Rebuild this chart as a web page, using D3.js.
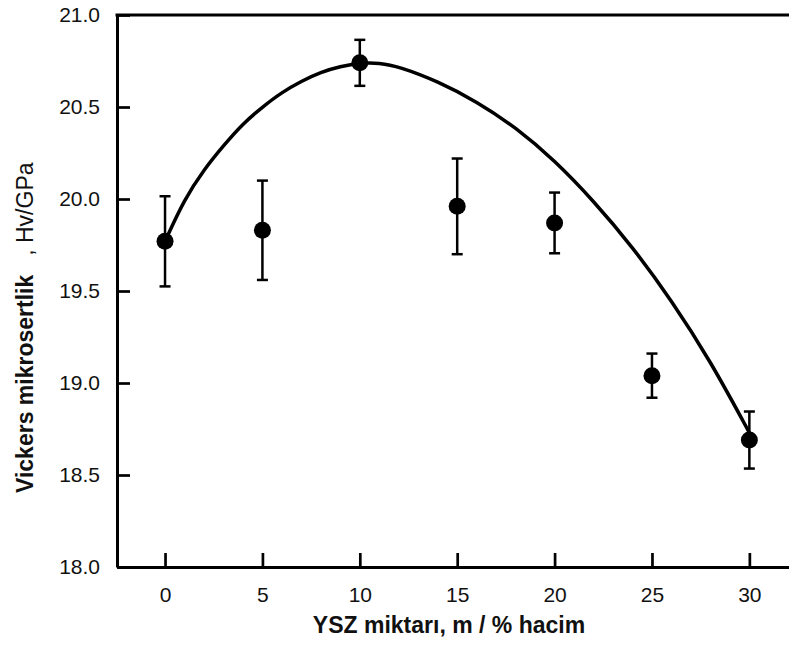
<!DOCTYPE html>
<html>
<head>
<meta charset="utf-8">
<script src="https://cdn.jsdelivr.net/npm/d3@7"></script>
<style>
  body { margin: 0; background: #fff; }
  svg { display: block; font-family: "Liberation Sans", Arial, sans-serif; }
</style>
</head>
<body>
<div id="chart"></div>
<script>
// measured points (YSZ vol %, hardness GPa, error)
const ysz = [0, 5, 10, 15, 20, 25, 30];
const hardness = [19.77, 19.83, 20.74, 19.96, 19.87, 19.04, 18.69];
const errors = [0.245, 0.27, 0.125, 0.26, 0.165, 0.12, 0.155];

// fitted curve
const curveX = [0, 1, 2, 3, 4, 5, 6, 7, 8, 9, 10, 11, 12, 14, 16, 18, 20, 22, 24, 26, 28, 30];
const curveY = [19.77, 20.0, 20.16, 20.29, 20.41, 20.5, 20.58, 20.64, 20.69, 20.72, 20.74, 20.74,
                20.72, 20.64, 20.53, 20.39, 20.21, 19.99, 19.74, 19.45, 19.12, 18.73];

const xTicks = [0, 5, 10, 15, 20, 25, 30];
const yTicks = [18.0, 18.5, 19.0, 19.5, 20.0, 20.5, 21.0];

const WIDTH = 789, HEIGHT = 645;
const LEFT = 117, TOP = 15, BOTTOM = 567, RIGHT = 800;

const svg = d3.select("#chart").append("svg")
  .attr("width", WIDTH)
  .attr("height", HEIGHT);

const X_SCALE = d3.scaleLinear()
  .domain([-2.466, 32.6])
  .range([LEFT, RIGHT]);

const Y_SCALE = d3.scaleLinear()
  .domain([18, 21])
  .range([BOTTOM, TOP]);

// x axis
const xAxis = svg.append("g")
  .attr("transform", "translate(0," + BOTTOM + ")")
  .call(d3.axisBottom(X_SCALE).tickValues(xTicks).tickSizeInner(-14).tickSizeOuter(0).tickPadding(20));

// y axis
const yAxis = svg.append("g")
  .attr("transform", "translate(" + LEFT + ",0)")
  .call(d3.axisLeft(Y_SCALE).tickValues(yTicks).tickFormat(d3.format(".1f"))
    .tickSizeInner(-13).tickSizeOuter(0).tickPadding(17));

[xAxis, yAxis].forEach(g => {
  g.select(".domain").attr("stroke", "#000").attr("stroke-width", 3);
  g.selectAll(".tick line").attr("stroke", "#000").attr("stroke-width", 2.7);
  g.selectAll(".tick text")
    .attr("fill", "#111")
    .attr("font-size", "21px")
    .attr("font-family", "'Liberation Sans', Arial, sans-serif");
});

// top frame line
svg.append("line")
  .attr("x1", LEFT - 1.5).attr("x2", RIGHT)
  .attr("y1", TOP).attr("y2", TOP)
  .attr("stroke", "#000").attr("stroke-width", 3);

// fitted curve
const curvePts = curveX.map((d, i) => [d, curveY[i]]);
svg.append("path")
  .datum(curvePts)
  .attr("fill", "none")
  .attr("stroke", "#000")
  .attr("stroke-width", 3.5)
  .attr("d", d3.line()
    .x(d => X_SCALE(d[0]))
    .y(d => Y_SCALE(d[1]))
    .curve(d3.curveBasis));

// error bars
const pts = ysz.map((d, i) => ({x: d, y: hardness[i], e: errors[i]}));
const eb = svg.append("g").attr("stroke", "#000").attr("stroke-width", 2.5);
pts.forEach(d => {
  const cx = X_SCALE(d.x);
  eb.append("line")
    .attr("x1", cx).attr("x2", cx)
    .attr("y1", Y_SCALE(d.y + d.e)).attr("y2", Y_SCALE(d.y - d.e));
  [d.y + d.e, d.y - d.e].forEach(v => {
    eb.append("line")
      .attr("x1", cx - 5.5).attr("x2", cx + 5.5)
      .attr("y1", Y_SCALE(v)).attr("y2", Y_SCALE(v));
  });
});

// points
svg.selectAll(".point")
  .data(pts)
  .enter()
  .append("circle")
    .attr("class", "point")
    .attr("cx", d => X_SCALE(d.x))
    .attr("cy", d => Y_SCALE(d.y))
    .attr("r", 8.5)
    .attr("fill", "#000");

// axis titles
svg.append("text")
  .attr("x", 449)
  .attr("y", 633)
  .attr("text-anchor", "middle")
  .attr("font-size", "23px")
  .attr("font-weight", "bold")
  .attr("fill", "#111")
  .text("YSZ miktarı, m / % hacim");

const yTitle = svg.append("text")
  .attr("transform", "translate(33,493) rotate(-90)")
  .attr("font-size", "23px")
  .attr("fill", "#111");
yTitle.append("tspan").attr("font-weight", "bold").text("Vickers mikrosertlik");
yTitle.append("tspan").attr("dx", 19).text(", Hv/GPa");
</script>
</body>
</html>
